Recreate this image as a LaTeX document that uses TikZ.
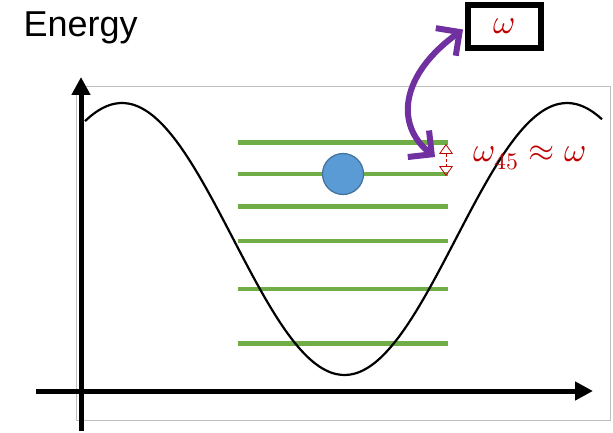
\documentclass[tikz,border=0pt]{standalone}
\usepackage{fontspec}
\usepackage{unicode-math}
\setmathfont{Latin Modern Math}
\newfontfamily\arialfont{Liberation Sans}
\usetikzlibrary{arrows.meta}
\definecolor{lvlgreen}{HTML}{70AD47}
\definecolor{ballblue}{HTML}{5B9BD5}
\definecolor{ballrim}{HTML}{41719C}
\definecolor{darkred}{HTML}{C00000}
\definecolor{purp}{HTML}{7030A0}
\tikzset{
  axis/.style={line width=5pt,-{Triangle[length=18pt,width=18pt]}},
  level/.style={line width=4.5pt,lvlgreen},
  ball/.style={circle,fill=ballblue,draw=ballrim,line width=1.2pt,minimum size=41pt,inner sep=0pt},
  gap/.style={darkred,densely dashed,line width=0.8pt,
    {Triangle[open,length=10pt,width=14pt]}-{Triangle[open,length=10pt,width=14pt]}},
  drive/.style={purp,line width=6pt,line cap=round,
    {Straight Barb[length=17pt,width=34pt]}-{Straight Barb[length=17pt,width=34pt]}},
  fbox/.style={draw,line width=6pt,minimum width=73pt,minimum height=43pt,inner sep=0pt},
}
\begin{document}
\begin{tikzpicture}[x=1pt,y=-1pt]
  \useasboundingbox (0,0) rectangle (613,433);
  \draw[black!25,line width=1pt] (76,87) rectangle (610,420);
  \node[anchor=base west,font=\arialfont\fontsize{36}{40}\selectfont] (elabel) at (20,37) {Energy};
  \foreach \y in {142.7,174,206.7,241,289,343.3}
    \draw[level] (238,\y) -- (448,\y);
  \draw[line width=2.2pt,domain=85:602,samples=120,smooth]
    plot (\x,{239-136*cos(0.80899*(\x-122))});
  \draw[axis] (36,391) -- (593,391);
  \draw[axis] (81,431) -- (81,77);
  \node[ball] (ball) at (343,174) {};
  \coordinate (gaptop) at (446,144);
  \coordinate (gapbot) at (446,176);
  \draw[gap] (gaptop) -- (gapbot);
  \node[darkred,anchor=west,font=\fontsize{34}{38}\selectfont] (approx) at (470,158)
    {$\omega_{45}\approx\omega$};
  \node[fbox] (wbox) at (504.5,26.5) {\color{darkred}\fontsize{34}{38}\selectfont$\omega$};
  \coordinate (drivend) at (435,157);
  \draw[drive] (drivend) .. controls (395,125) and (400,75) .. ([xshift=-2pt,yshift=-3pt]wbox.west);
\end{tikzpicture}
\end{document}
